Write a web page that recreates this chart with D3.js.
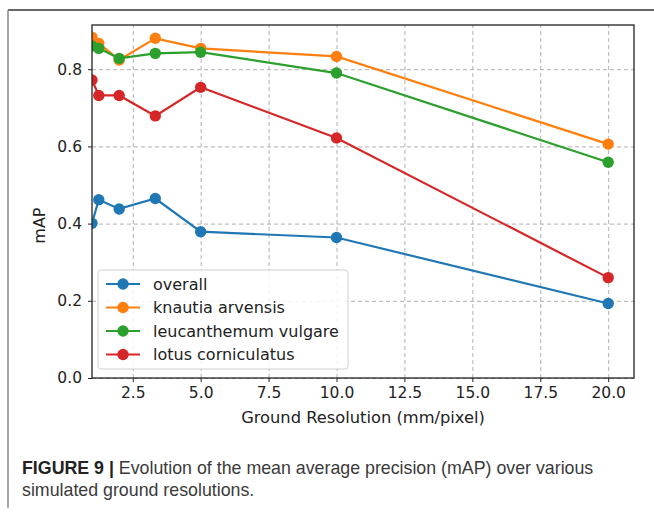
<html>
    <head>
        <script src="https://d3js.org/d3.v7.min.js"></script>
        <style>
            body { margin: 0; background: white; }
        </style>
    </head>

    <body>
        <script>
            // data
            var resolution = [1, 1.25, 2, 3.33, 5, 10, 20];
            var overall = [0.401, 0.462, 0.438, 0.465, 0.379, 0.364, 0.193];
            var knautia = [0.883, 0.867, 0.824, 0.880, 0.854, 0.833, 0.606];
            var leucanthemum = [0.860, 0.854, 0.828, 0.841, 0.844, 0.790, 0.559];
            var lotus = [0.772, 0.732, 0.732, 0.679, 0.753, 0.622, 0.260];
            var seriesNames = ["overall", "knautia arvensis", "leucanthemum vulgare", "lotus corniculatus"];
            var seriesValues = [overall, knautia, leucanthemum, lotus];
            var xTicks = [2.5, 5, 7.5, 10, 12.5, 15, 17.5, 20];
            var yTicks = [0, 0.2, 0.4, 0.6, 0.8];

            var colors = ["#1f77b4", "#ff7f0e", "#2ca02c", "#d62728"];

            var W = 654, H = 514;
            var margin = {top: 25, right: 20, bottom: 136, left: 92},
                width = W - margin.left - margin.right,
                height = H - margin.top - margin.bottom;

            var root = d3.select("body")
                .append("svg")
                .attr("width", W)
                .attr("height", H);

            // figure frame (top and left rules of the page)
            root.append("line").attr("x1", 8).attr("x2", W).attr("y1", 10).attr("y2", 10)
                .attr("stroke", "#333").attr("stroke-width", 1.5);
            root.append("line").attr("x1", 8).attr("x2", 8).attr("y1", 10).attr("y2", 508)
                .attr("stroke", "#888").attr("stroke-width", 1.5);

            var svg = root.append("g")
                .attr("transform", "translate(" + margin.left + "," + margin.top + ")");

            var x = d3.scaleLinear()
                .domain([1, 20.95])
                .range([0, width]);
            var y = d3.scaleLinear()
                .domain([0, 0.9145])
                .range([height, 0]);

            // grid
            svg.append("g")
                .attr("transform", "translate(0," + height + ")")
                .call(d3.axisBottom(x).tickValues(xTicks).tickSize(-height).tickFormat(""))
                .call(function(g) { g.select(".domain").remove(); })
                .selectAll(".tick line")
                .attr("stroke", "#b0b0b0").attr("stroke-dasharray", "4,3").attr("stroke-width", 1);
            svg.append("g")
                .call(d3.axisLeft(y).tickValues(yTicks).tickSize(-width).tickFormat(""))
                .call(function(g) { g.select(".domain").remove(); })
                .selectAll(".tick line")
                .attr("stroke", "#b0b0b0").attr("stroke-dasharray", "4,3").attr("stroke-width", 1);

            svg.append("clipPath").attr("id", "plotclip")
                .append("rect").attr("width", width).attr("height", height);

            var plot = svg.append("g").attr("clip-path", "url(#plotclip)");

            var line = d3.line()
                .x(function(d, i) { return x(resolution[i]); })
                .y(function(d) { return y(d); });

            seriesValues.forEach(function(vals, k) {
                plot.append("path")
                    .datum(vals)
                    .attr("d", line)
                    .attr("fill", "none")
                    .attr("stroke", colors[k])
                    .attr("stroke-width", 2.2);
                plot.append("g")
                    .selectAll("circle")
                    .data(vals)
                    .enter()
                    .append("circle")
                    .attr("cx", function(d, i) { return x(resolution[i]); })
                    .attr("cy", function(d) { return y(d); })
                    .attr("r", 5.7)
                    .attr("fill", colors[k]);
            });

            // axes
            var xAxis = svg.append("g")
                .attr("transform", "translate(0," + height + ")")
                .call(d3.axisBottom(x).tickValues(xTicks).tickSize(4).tickPadding(5).tickFormat(d3.format(".1f")));
            var yAxis = svg.append("g")
                .call(d3.axisLeft(y).tickValues(yTicks).tickSize(4).tickPadding(6).tickFormat(d3.format(".1f")));
            [xAxis, yAxis].forEach(function(a) {
                a.select(".domain").remove();
                a.selectAll(".tick line").attr("stroke", "#222").attr("stroke-width", 1);
                a.selectAll("text").attr("fill", "#222")
                    .style("font-family", "DejaVu Sans").style("font-size", "15.5px");
            });

            // full box
            svg.append("rect")
                .attr("width", width).attr("height", height)
                .attr("fill", "none").attr("stroke", "#222").attr("stroke-width", 1.3);

            // axis labels
            svg.append("text")
                .attr("text-anchor", "middle")
                .attr("x", width / 2)
                .attr("y", height + 45)
                .style("font-family", "DejaVu Sans").style("font-size", "16.3px").attr("fill", "#222")
                .text("Ground Resolution (mm/pixel)");
            svg.append("text")
                .attr("text-anchor", "middle")
                .attr("transform", "rotate(-90)")
                .attr("x", -(y(0.4) + 2))
                .attr("y", -47)
                .style("font-family", "DejaVu Sans").style("font-size", "16px").attr("fill", "#222")
                .text("mAP");

            // legend
            var legend = svg.append("g").attr("transform", "translate(6," + 245 + ")");
            legend.append("rect")
                .attr("width", 250).attr("height", 99)
                .attr("rx", 3)
                .attr("fill", "white").attr("fill-opacity", 0.85)
                .attr("stroke", "#d0d0d0").attr("stroke-width", 1);
            seriesNames.forEach(function(name, k) {
                var ly = 14 + k * 23.5;
                legend.append("line").attr("x1", 8).attr("x2", 42).attr("y1", ly).attr("y2", ly)
                    .attr("stroke", colors[k]).attr("stroke-width", 2.2);
                legend.append("circle").attr("cx", 25).attr("cy", ly).attr("r", 5.7).attr("fill", colors[k]);
                legend.append("text").attr("x", 55).attr("y", ly)
                    .attr("dy", "0.35em")
                    .style("font-family", "DejaVu Sans").style("font-size", "16px").attr("fill", "#222")
                    .text(name);
            });

            // caption
            var cap = root.append("text")
                .attr("x", 22).attr("y", 474)
                .style("font-family", "Liberation Sans").style("font-size", "17.8px").attr("fill", "#3a3a3a");
            cap.append("tspan").style("font-weight", "bold").attr("fill", "#222").text("FIGURE 9 | ");
            cap.append("tspan").text("Evolution of the mean average precision (mAP) over various");
            root.append("text")
                .attr("x", 22).attr("y", 496)
                .style("font-family", "Liberation Sans").style("font-size", "17.8px").attr("fill", "#3a3a3a")
                .text("simulated ground resolutions.");
        </script>
    </body>
</html>
